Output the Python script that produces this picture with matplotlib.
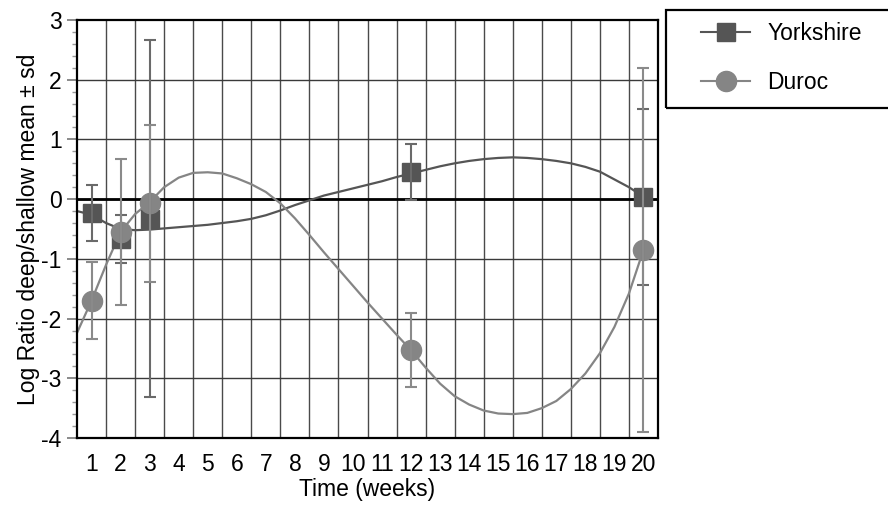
import matplotlib
matplotlib.use("Agg")
import matplotlib.pyplot as plt
from matplotlib.patches import Rectangle
from matplotlib.ticker import MultipleLocator

plt.rcParams["font.family"] = ["Liberation Sans", "DejaVu Sans"]
plt.rcParams["axes.unicode_minus"] = False

weeks = list(range(1, 21))
sample_weeks = [1, 2, 3, 12, 20]

york_mean = [-0.23, -0.67, -0.33, 0.45, 0.04]
york_sd = [0.47, 0.40, 2.99, 0.47, 1.47]
duroc_mean = [-1.70, -0.55, -0.07, -2.53, -0.85]
duroc_sd = [0.65, 1.22, 1.32, 0.62, 3.05]

# fitted curves, every half week
curve_x = [0.5, 1, 1.5, 2, 2.5, 3, 3.5, 4, 4.5, 5, 5.5, 6, 6.5, 7, 7.5, 8, 8.5,
           9, 9.5, 10, 10.5, 11, 11.5, 12, 12.5, 13, 13.5, 14, 14.5, 15, 15.5,
           16, 16.5, 17, 17.5, 18, 18.5, 19, 19.5, 20]
york_curve = [-0.20, -0.26, -0.40, -0.50, -0.52, -0.51, -0.49, -0.47, -0.45, -0.43,
              -0.40, -0.37, -0.33, -0.27, -0.19, -0.10, -0.02, 0.06, 0.12, 0.18,
              0.24, 0.30, 0.37, 0.43, 0.49, 0.55, 0.60, 0.64, 0.67, 0.69, 0.70,
              0.69, 0.67, 0.64, 0.60, 0.54, 0.46, 0.33, 0.20, 0.04]
duroc_curve = [-2.24, -1.70, -1.10, -0.55, -0.25, -0.05, 0.20, 0.36, 0.44, 0.45,
               0.43, 0.35, 0.25, 0.12, -0.07, -0.32, -0.60, -0.89, -1.17, -1.45,
               -1.73, -2.00, -2.27, -2.53, -2.82, -3.09, -3.30, -3.44, -3.54, -3.59,
               -3.60, -3.58, -3.50, -3.38, -3.18, -2.92, -2.58, -2.14, -1.58, -0.85]

york_color = "#555555"
duroc_color = "#858585"
fs = 16.5

fig = plt.figure(figsize=(8.88, 5.05), dpi=100)
ax = fig.add_axes([77 / 888, 1 - 438 / 505, 581 / 888, 418 / 505])

ax.set_xlim(0.5, 20.5)
ax.set_ylim(-4, 3)

# grid: vertical lines between the week slots, horizontal at every unit
for b in range(1, 20):
    ax.axvline(b + 0.5, color="#4a4a4a", lw=1.0, zorder=1)
for v in range(-3, 3):
    ax.axhline(v, color="#3a3a3a", lw=1.0, zorder=1)
ax.axhline(0, color="black", lw=2.0, zorder=1.5)

ax.plot(curve_x, york_curve, color=york_color, lw=1.6, zorder=2)
ax.plot(curve_x, duroc_curve, color=duroc_color, lw=1.6, zorder=2)

ax.plot(sample_weeks, york_mean, ls="none", marker="s", ms=13.5,
        color=york_color, zorder=3)
ax.plot(sample_weeks, duroc_mean, ls="none", marker="o", ms=14.5,
        color=duroc_color, zorder=4)
ax.errorbar(sample_weeks, york_mean, yerr=york_sd, fmt="none",
            ecolor="#6a6a6a", elinewidth=1.5, capsize=4.5, capthick=1.5, zorder=5)
ax.errorbar(sample_weeks, duroc_mean, yerr=duroc_sd, fmt="none",
            ecolor="#8a8a8a", elinewidth=1.5, capsize=4.5, capthick=1.5, zorder=5)

ax.set_xticks(weeks)
ax.set_xticklabels([str(w) for w in weeks])
ax.tick_params(axis="x", length=0, pad=11, labelsize=fs)
ax.yaxis.set_major_locator(MultipleLocator(1))
ax.yaxis.set_minor_locator(MultipleLocator(0.2))
ax.tick_params(axis="y", which="major", length=7, width=1.2, color="#777777",
               pad=4, labelsize=fs)
ax.tick_params(axis="y", which="minor", length=3.5, width=1.0, color="#999999")

for side in ax.spines.values():
    side.set_color("black")
    side.set_linewidth(1.6)

ax.set_xlabel("Time (weeks)", fontsize=fs, labelpad=1)
ax.set_ylabel("Log Ratio deep/shallow mean ± sd", fontsize=fs, labelpad=1)

# legend with a plain box
fig.patches.append(Rectangle((666 / 888, 1 - 108 / 505), 230 / 888, 98 / 505,
                             transform=fig.transFigure, fill=False,
                             edgecolor="black", lw=1.6))
handles = [
    plt.Line2D([], [], color=york_color, marker="s", ms=13.5, lw=1.5),
    plt.Line2D([], [], color=duroc_color, marker="o", ms=14.5, lw=1.5),
]
fig.legend(handles, ["Yorkshire", "Duroc"], loc="upper left",
           bbox_to_anchor=(701 / 888, 1 - 22 / 505), frameon=False,
           fontsize=fs, handlelength=2.15, handletextpad=0.75,
           labelspacing=1.15, borderaxespad=0, borderpad=0)

fig.savefig("out.png", dpi=100)
